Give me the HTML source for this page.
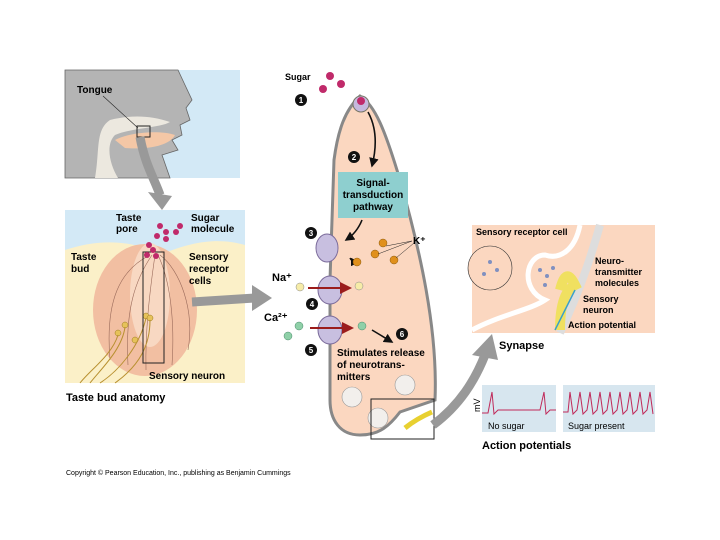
<!DOCTYPE html>
<html><head><style>
body{margin:0;background:#fff}
svg{display:block;font-family:"Liberation Sans",sans-serif;font-weight:bold}
</style></head><body>
<svg width="720" height="540" viewBox="0 0 720 540" xmlns="http://www.w3.org/2000/svg">
<defs>
<marker id="ah" markerWidth="6" markerHeight="6" refX="5" refY="3" orient="auto"><path d="M0,0 L6,3 L0,6z" fill="#111"/></marker>
<marker id="ar" markerWidth="6" markerHeight="6" refX="5" refY="3" orient="auto"><path d="M0,0 L6,3 L0,6z" fill="#9b1c1c"/></marker>
</defs>
<!-- Tongue panel -->
<rect x="65" y="70" width="175" height="108" fill="#d3e9f6"/>
<path d="M65,70 L178,70 L185,85 L192,100 L186,108 L190,120 L180,125 L182,135 L172,140 L178,150 L162,155 L170,178 L65,178 Z" fill="#b4b4b4" stroke="#666" stroke-width="0.8"/>
<path d="M95,178 C100,150 95,130 110,120 C130,115 150,115 170,122 C160,128 130,128 115,135 C105,145 110,165 118,178Z" fill="#ece8df"/>
<path d="M115,140 C130,132 160,130 175,135 C170,145 150,150 125,148 Z" fill="#f4c7a6"/>
<rect x="137" y="126" width="13" height="11" fill="none" stroke="#222"/>
<text x="77" y="93" font-size="10">Tongue</text>
<line x1="103" y1="96" x2="138" y2="128" stroke="#222" stroke-width="0.6"/>
<path d="M140,137 C145,165 155,180 160,195" stroke="#999" stroke-width="9" fill="none"/>
<path d="M148,192 L172,196 L162,210 Z" fill="#999"/>
<!-- Taste bud panel -->
<rect x="65" y="210" width="180" height="173" fill="#fbf0c8"/>
<path d="M65,210 H245 V245 C220,238 195,240 160,255 C130,238 95,240 65,250 Z" fill="#d3e9f6"/>
<ellipse cx="145" cy="310" rx="52" ry="66" fill="#f2bfa2"/>
<ellipse cx="150" cy="295" rx="20" ry="52" fill="#f8d8c2"/>
<g stroke="#9a6a5a" stroke-width="0.6" fill="none">
<path d="M150,255 C120,270 105,300 110,360"/><path d="M152,255 C135,280 125,310 128,365"/><path d="M155,255 C150,290 145,330 146,370"/><path d="M158,255 C170,280 175,320 172,365"/><path d="M160,255 C180,270 195,310 188,350"/>
</g>
<g fill="#e6c25a" stroke="#9a7a20" stroke-width="0.5"><circle cx="118" cy="333" r="3"/><circle cx="125" cy="325" r="3"/><circle cx="146" cy="316" r="3"/><circle cx="150" cy="318" r="3"/><circle cx="135" cy="340" r="3"/></g>
<g stroke="#b89030" stroke-width="1" fill="none"><path d="M118,335 C112,355 90,370 80,383"/><path d="M125,327 C122,350 100,370 90,383"/><path d="M146,318 C140,345 120,370 100,383"/><path d="M150,320 C150,345 140,365 115,383"/></g>
<rect x="143" y="252" width="21" height="111" fill="none" stroke="#222"/>
<g fill="#c02a6a"><circle cx="160" cy="226" r="3"/><circle cx="166" cy="232" r="3"/><circle cx="157" cy="236" r="3"/><circle cx="176" cy="232" r="3"/><circle cx="149" cy="245" r="3"/><circle cx="153" cy="250" r="3"/><circle cx="147" cy="255" r="3"/><circle cx="156" cy="256" r="3"/><circle cx="166" cy="239" r="3"/><circle cx="180" cy="226" r="3"/></g>
<g font-size="10"><text x="116" y="221">Taste</text><text x="116" y="232">pore</text><text x="191" y="221">Sugar</text><text x="191" y="232">molecule</text>
<text x="71" y="260">Taste</text><text x="71" y="272">bud</text>
<text x="189" y="260">Sensory</text><text x="189" y="272">receptor</text><text x="189" y="284">cells</text>
<text x="149" y="379">Sensory neuron</text></g>
<text x="66" y="401" font-size="11">Taste bud anatomy</text>
<path d="M192,302 L255,298" stroke="#999" stroke-width="9"/><path d="M252,285 L272,298 L252,311 Z" fill="#999"/>
<!-- cell -->
<path d="M360,96 C345,110 338,130 334,160 L330,280 L330,400 C330,420 340,435 360,435 C380,435 390,425 400,412 L435,400 C438,330 420,250 400,180 C385,130 375,105 360,96 Z" fill="#fbd7c0" stroke="#888" stroke-width="3"/>
<rect x="338" y="172" width="70" height="46" fill="#8ecfcf"/>
<g font-size="10" text-anchor="middle"><text x="373" y="186">Signal-</text><text x="373" y="198">transduction</text><text x="373" y="210">pathway</text></g>
<circle cx="361" cy="104" r="8" fill="#c5b8dd" stroke="#776"/><circle cx="361" cy="101" r="4" fill="#c02a6a"/>
<path d="M368,112 C378,130 376,150 372,166" stroke="#111" stroke-width="1.6" fill="none" marker-end="url(#ah)"/>
<g fill="#c02a6a"><circle cx="330" cy="76" r="4"/><circle cx="323" cy="89" r="4"/><circle cx="341" cy="84" r="4"/></g>
<text x="285" y="80" font-size="9">Sugar</text>
<g fill="#111"><circle cx="301" cy="100" r="6"/><circle cx="354" cy="157" r="6"/><circle cx="311" cy="233" r="6"/><circle cx="312" cy="304" r="6"/><circle cx="311" cy="350" r="6"/><circle cx="402" cy="334" r="6"/></g>
<g fill="#fff" font-size="8" text-anchor="middle"><text x="301" y="103">1</text><text x="354" y="160">2</text><text x="311" y="236">3</text><text x="312" y="307">4</text><text x="311" y="353">5</text><text x="402" y="337">6</text></g>
<path d="M362,220 C358,230 352,236 346,240" stroke="#111" stroke-width="1.6" fill="none" marker-end="url(#ah)"/>
<g fill="#c8bfe0" stroke="#7a6a9a"><ellipse cx="327" cy="248" rx="11" ry="14"/><ellipse cx="330" cy="290" rx="12" ry="14"/><ellipse cx="330" cy="330" rx="12" ry="14"/></g>
<path d="M350,258 C352,262 355,262 358,262" stroke="#111" stroke-width="1.4" fill="none" marker-end="url(#ah)"/>
<g fill="#e0901c" stroke="#8a5a10" stroke-width="0.5"><circle cx="357" cy="262" r="4"/><circle cx="383" cy="243" r="4"/><circle cx="375" cy="254" r="4"/><circle cx="394" cy="260" r="4"/></g>
<text x="413" y="244" font-size="10">K⁺</text>
<g stroke="#222" stroke-width="0.5"><line x1="412" y1="241" x2="386" y2="246"/><line x1="412" y1="241" x2="378" y2="254"/><line x1="414" y1="243" x2="396" y2="258"/></g>
<text x="272" y="281" font-size="11">Na⁺</text>
<g fill="#f6eca8" stroke="#888" stroke-width="0.5"><circle cx="300" cy="287" r="4"/><circle cx="359" cy="286" r="4"/></g>
<line x1="308" y1="288" x2="350" y2="288" stroke="#9b1c1c" stroke-width="2" marker-end="url(#ar)"/>
<text x="264" y="321" font-size="11">Ca²⁺</text>
<g fill="#8fd0a8" stroke="#4a8a6a" stroke-width="0.5"><circle cx="299" cy="326" r="4"/><circle cx="288" cy="336" r="4"/><circle cx="362" cy="326" r="4"/></g>
<line x1="310" y1="328" x2="352" y2="328" stroke="#9b1c1c" stroke-width="2" marker-end="url(#ar)"/>
<path d="M372,330 L392,342" stroke="#111" stroke-width="1.6" marker-end="url(#ah)"/>
<g font-size="10"><text x="337" y="356">Stimulates release</text><text x="337" y="368">of neurotrans-</text><text x="337" y="380">mitters</text></g>
<g fill="#f2efec" stroke="#999" stroke-width="0.6"><circle cx="352" cy="397" r="10"/><circle cx="405" cy="385" r="10"/><circle cx="378" cy="418" r="10"/></g>
<rect x="371" y="399" width="63" height="40" fill="none" stroke="#222"/>
<path d="M405,428 C415,420 425,415 432,412" stroke="#e8d030" stroke-width="5" fill="none"/>
<path d="M433,425 C460,405 475,380 485,355" stroke="#999" stroke-width="9" fill="none"/><path d="M472,355 L492,334 L498,360 Z" fill="#999"/>
<!-- synapse panel -->
<rect x="472" y="225" width="183" height="108" fill="#fbd7c0"/>
<circle cx="490" cy="268" r="22" fill="#fbd7c0" stroke="#333" stroke-width="0.6"/>
<path d="M580,225 C575,250 560,260 545,255 C525,255 520,290 545,300 C530,310 500,315 472,330" stroke="#fff" stroke-width="5" fill="none"/>
<path d="M600,225 C590,260 580,290 560,333" stroke="#ddd" stroke-width="8" fill="none"/>
<path d="M560,330 C560,305 565,290 575,285 C570,275 565,270 560,290" stroke="#f0e060" stroke-width="10" fill="none"/>
<path d="M555,330 L575,290" stroke="#3aa0c8" stroke-width="1.5"/>
<g fill="#8090c0"><circle cx="540" cy="270" r="2"/><circle cx="547" cy="276" r="2"/><circle cx="553" cy="268" r="2"/><circle cx="545" cy="285" r="2"/><circle cx="490" cy="262" r="2"/><circle cx="497" cy="270" r="2"/><circle cx="484" cy="274" r="2"/></g>
<g font-size="9"><text x="476" y="235">Sensory receptor cell</text><text x="595" y="264">Neuro-</text><text x="595" y="275">transmitter</text><text x="595" y="286">molecules</text><text x="583" y="302">Sensory</text><text x="583" y="313">neuron</text><text x="568" y="328">Action potential</text></g>
<text x="499" y="349" font-size="11">Synapse</text>
<rect x="482" y="385" width="74" height="47" fill="#d7e6ef"/>
<rect x="563" y="385" width="92" height="47" fill="#d7e6ef"/>
<polyline points="482,413 488,413 492,392 494,414 498,410 540,410 544,392 546,414 550,410 556,410" fill="none" stroke="#c02a5a"/>
<polyline points="563,412 568,412 570,392 573,414 577,410 580,392 583,414 587,410 590,392 593,414 597,410 600,392 603,414 607,410 610,392 613,414 617,410 620,392 623,414 627,410 630,392 633,414 637,410 640,392 643,414 647,410 650,392 653,414" fill="none" stroke="#c02a5a"/>
<g font-size="9" font-weight="normal"><text x="488" y="429">No sugar</text><text x="568" y="429">Sugar present</text></g>
<text x="480" y="412" font-size="9" font-weight="normal" transform="rotate(-90 480 412)">mV</text>
<text x="482" y="449" font-size="11">Action potentials</text>
<text x="66" y="475" font-size="7" font-weight="normal">Copyright © Pearson Education, Inc., publishing as Benjamin Cummings</text>
</svg>
</body></html>
